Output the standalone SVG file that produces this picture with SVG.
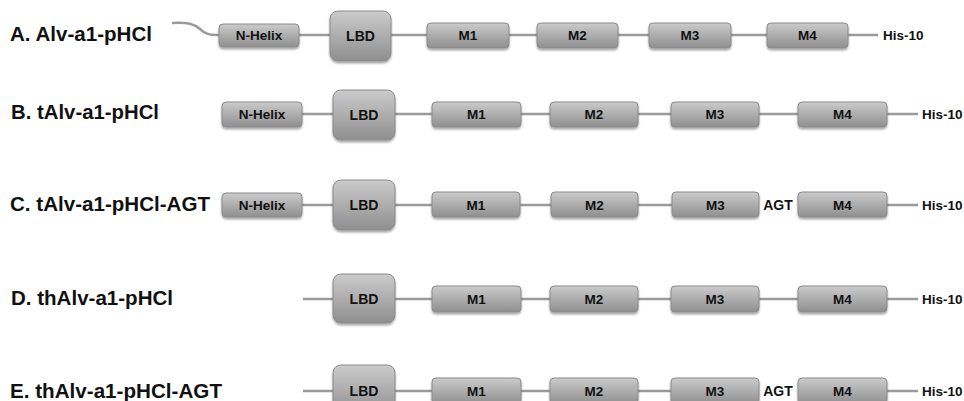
<svg xmlns="http://www.w3.org/2000/svg" width="964" height="401" viewBox="0 0 964 401">
<defs>
<linearGradient id="g" x1="0" y1="0" x2="0" y2="1">
<stop offset="0" stop-color="#cbcbcb"/>
<stop offset="1" stop-color="#8f8f8f"/>
</linearGradient>
<filter id="sh" x="-10%" y="-20%" width="120%" height="150%">
<feGaussianBlur in="SourceAlpha" stdDeviation="1.2"/>
<feOffset dx="0" dy="1.5" result="b"/>
<feComponentTransfer><feFuncA type="linear" slope="0.35"/></feComponentTransfer>
<feMerge><feMergeNode/><feMergeNode in="SourceGraphic"/></feMerge>
</filter>
</defs>
<style>
.bx{fill:url(#g);stroke:#8a8a8a;stroke-width:1;filter:url(#sh)}
.ln{stroke:#9a9a9a;stroke-width:2.5;fill:none}
.t{font-family:"Liberation Sans",Arial,sans-serif;font-weight:bold;font-size:13.5px;fill:#111;text-anchor:middle}
.lb{font-size:14px}
.lab{font-family:"Liberation Sans",Arial,sans-serif;font-weight:bold;font-size:20px;fill:#111}
.his{font-family:"Liberation Sans",Arial,sans-serif;font-weight:bold;font-size:13.5px;fill:#111}
</style>

<g id="connectors">
<path class="ln" d="M172,23 C188,22 194,24 200,29 C205,34 209,35 219,35 L878,35"/>
<path class="ln" d="M302,114 L918,114"/>
<path class="ln" d="M302,205 L759,205 M887,205 L918,205"/>
<path class="ln" d="M303,299 L918,299"/>
<path class="ln" d="M303,391 L759,391 M887,391 L918,391"/>
</g>

<g id="rowA">
<text class="lab" x="10" y="41" textLength="142" lengthAdjust="spacingAndGlyphs">A. Alv-a1-pHCl</text>
<g id="A-nhelix"><rect class="bx" x="219" y="24" width="80" height="23" rx="4"/><text class="t" x="259" y="40">N-Helix</text></g>
<g id="A-lbd"><rect class="bx" x="330" y="11" width="61" height="50" rx="8"/><text class="t lb" x="360.5" y="41">LBD</text></g>
<g id="A-m1"><rect class="bx" x="427" y="23" width="82" height="25" rx="4"/><text class="t" x="468" y="40">M1</text></g>
<g id="A-m2"><rect class="bx" x="537" y="23" width="81" height="25" rx="4"/><text class="t" x="577.5" y="40">M2</text></g>
<g id="A-m3"><rect class="bx" x="649" y="23" width="82" height="25" rx="4"/><text class="t" x="690" y="40">M3</text></g>
<g id="A-m4"><rect class="bx" x="767" y="23" width="81" height="25" rx="4"/><text class="t" x="807.5" y="40">M4</text></g>
<text class="his" x="883" y="40">His-10</text>
</g>

<g id="rowB">
<text class="lab" x="11" y="119" textLength="148" lengthAdjust="spacingAndGlyphs">B. tAlv-a1-pHCl</text>
<g id="B-nhelix"><rect class="bx" x="222" y="102" width="80" height="25" rx="4"/><text class="t" x="262" y="119">N-Helix</text></g>
<g id="B-lbd"><rect class="bx" x="333" y="90" width="62" height="50" rx="8"/><text class="t lb" x="364" y="120">LBD</text></g>
<g id="B-m1"><rect class="bx" x="432" y="102" width="89" height="25" rx="4"/><text class="t" x="476.5" y="119">M1</text></g>
<g id="B-m2"><rect class="bx" x="550" y="102" width="88" height="25" rx="4"/><text class="t" x="594" y="119">M2</text></g>
<g id="B-m3"><rect class="bx" x="671" y="102" width="88" height="25" rx="4"/><text class="t" x="715" y="119">M3</text></g>
<g id="B-m4"><rect class="bx" x="798" y="102" width="89" height="25" rx="4"/><text class="t" x="842.5" y="119">M4</text></g>
<text class="his" x="922" y="119">His-10</text>
</g>

<g id="rowC">
<text class="lab" x="10" y="211" textLength="200" lengthAdjust="spacingAndGlyphs">C. tAlv-a1-pHCl-AGT</text>
<g id="C-nhelix"><rect class="bx" x="222" y="193" width="80" height="24" rx="4"/><text class="t" x="262" y="210">N-Helix</text></g>
<g id="C-lbd"><rect class="bx" x="333" y="180" width="62" height="50" rx="8"/><text class="t lb" x="364" y="210">LBD</text></g>
<g id="C-m1"><rect class="bx" x="432" y="192" width="88" height="25" rx="4"/><text class="t" x="476" y="210">M1</text></g>
<g id="C-m2"><rect class="bx" x="551" y="192" width="87" height="25" rx="4"/><text class="t" x="594.5" y="210">M2</text></g>
<g id="C-m3"><rect class="bx" x="672" y="192" width="87" height="25" rx="4"/><text class="t" x="715.5" y="210">M3</text></g>
<text class="t lb" x="778" y="210">AGT</text>
<g id="C-m4"><rect class="bx" x="798" y="192" width="89" height="25" rx="4"/><text class="t" x="842.5" y="210">M4</text></g>
<text class="his" x="922" y="210">His-10</text>
</g>

<g id="rowD">
<text class="lab" x="11" y="305" textLength="162" lengthAdjust="spacingAndGlyphs">D. thAlv-a1-pHCl</text>
<g id="D-lbd"><rect class="bx" x="333" y="274" width="62" height="49" rx="8"/><text class="t lb" x="364" y="304">LBD</text></g>
<g id="D-m1"><rect class="bx" x="432" y="286" width="89" height="26" rx="4"/><text class="t" x="476.5" y="304">M1</text></g>
<g id="D-m2"><rect class="bx" x="550" y="286" width="88" height="26" rx="4"/><text class="t" x="594" y="304">M2</text></g>
<g id="D-m3"><rect class="bx" x="671" y="286" width="88" height="26" rx="4"/><text class="t" x="715" y="304">M3</text></g>
<g id="D-m4"><rect class="bx" x="798" y="286" width="89" height="26" rx="4"/><text class="t" x="842.5" y="304">M4</text></g>
<text class="his" x="922" y="304">His-10</text>
</g>

<g id="rowE">
<text class="lab" x="10" y="398" textLength="212" lengthAdjust="spacingAndGlyphs">E. thAlv-a1-pHCl-AGT</text>
<g id="E-lbd"><rect class="bx" x="333" y="365" width="62" height="50" rx="8"/><text class="t lb" x="364" y="396">LBD</text></g>
<g id="E-m1"><rect class="bx" x="432" y="378" width="89" height="26" rx="4"/><text class="t" x="476.5" y="396">M1</text></g>
<g id="E-m2"><rect class="bx" x="550" y="378" width="88" height="26" rx="4"/><text class="t" x="594" y="396">M2</text></g>
<g id="E-m3"><rect class="bx" x="671" y="378" width="88" height="26" rx="4"/><text class="t" x="715" y="396">M3</text></g>
<text class="t lb" x="778" y="396">AGT</text>
<g id="E-m4"><rect class="bx" x="798" y="378" width="89" height="26" rx="4"/><text class="t" x="842.5" y="396">M4</text></g>
<text class="his" x="922" y="396">His-10</text>
</g>
</svg>
